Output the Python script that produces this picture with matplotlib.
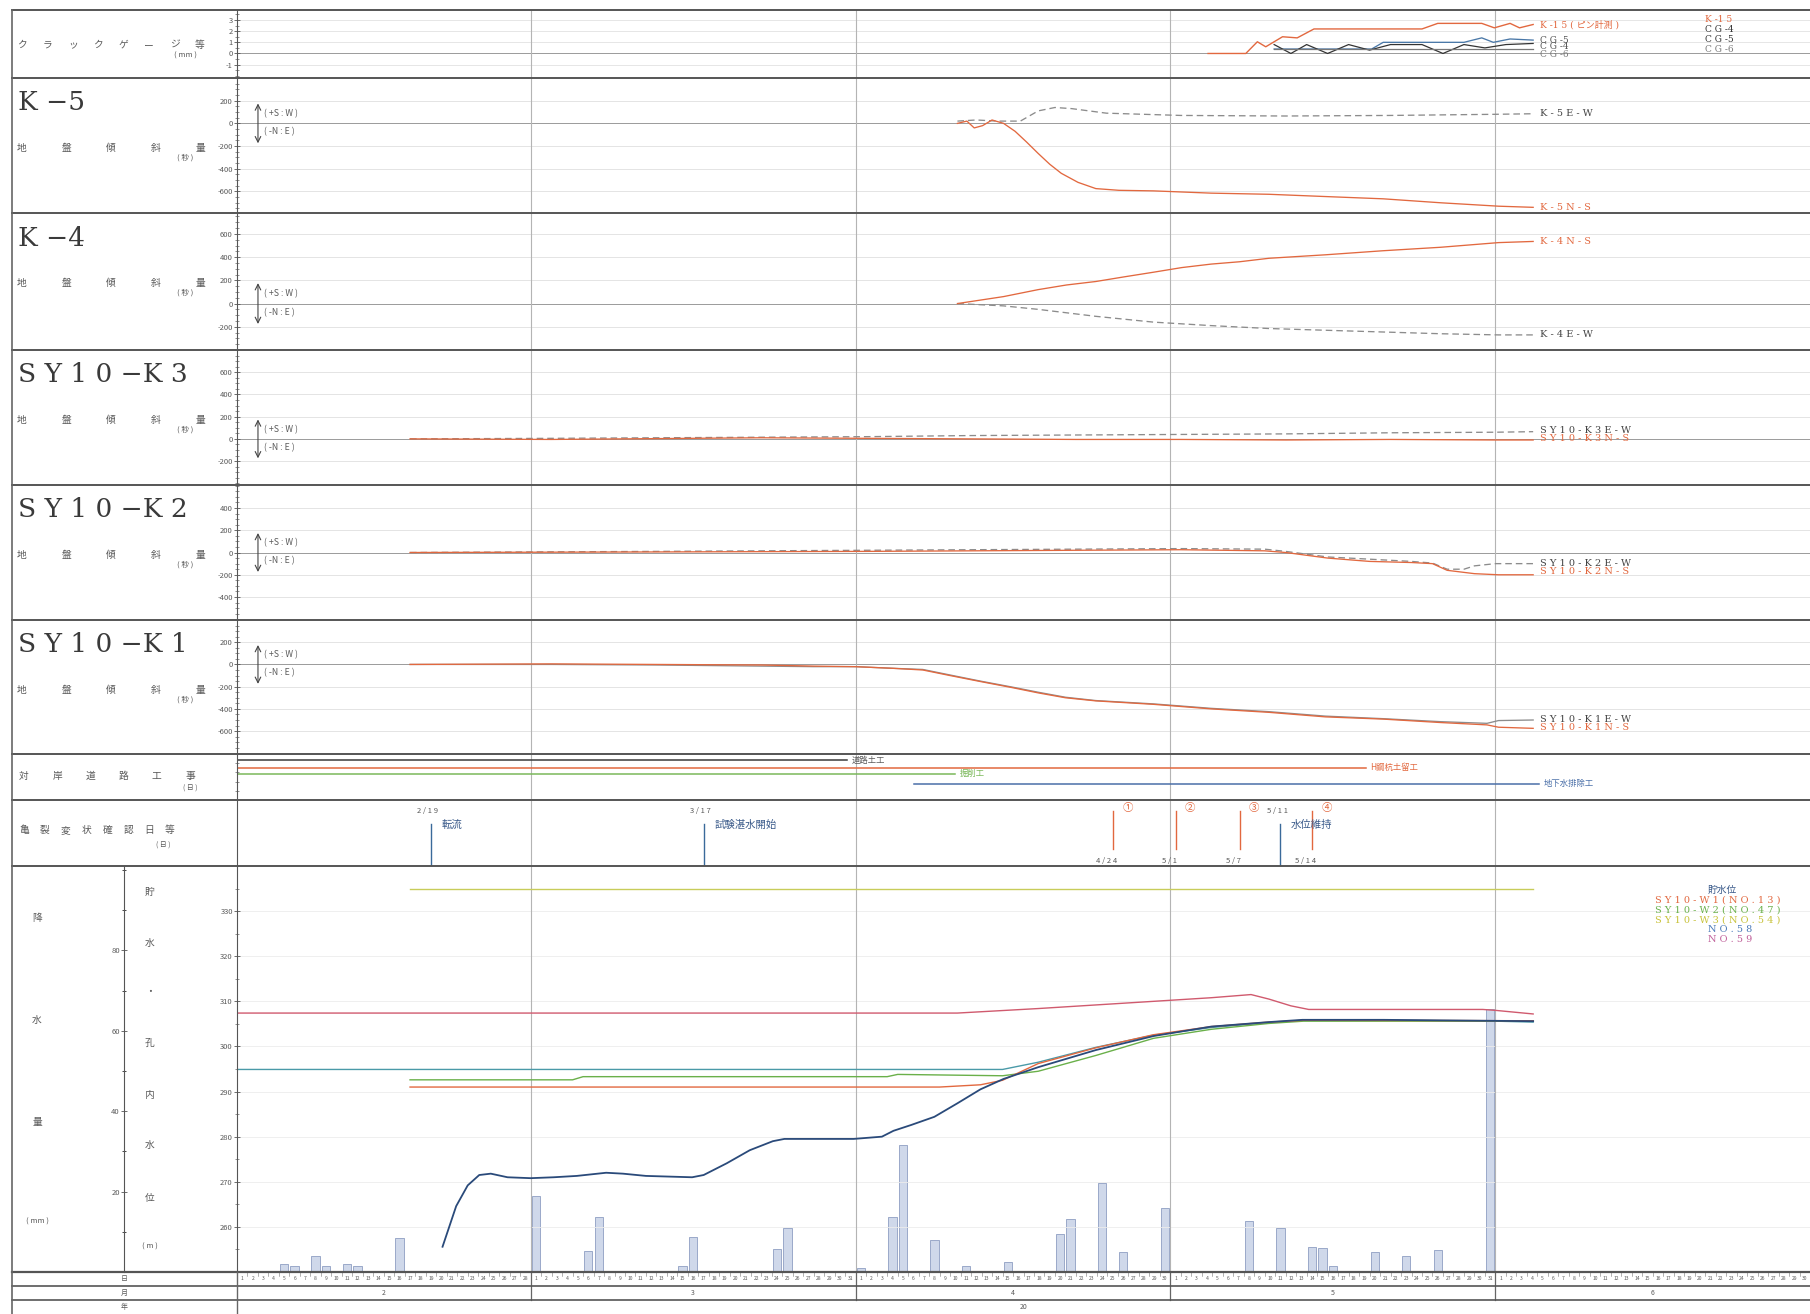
import matplotlib
matplotlib.use("Agg")
import matplotlib.pyplot as plt
from matplotlib.lines import Line2D
from matplotlib.ticker import MultipleLocator

plt.rcParams["font.family"] = ["Noto Sans CJK JP", "DejaVu Sans"]
plt.rcParams["axes.unicode_minus"] = False

W, H = 1810, 1314          # output size in px (dpi 100)
X0 = 237                   # left edge of the plotting area
NDAYS = 150                # Feb 1 .. Jun 30

# --- calendar ---
MONTHS = ["2", "3", "4", "5", "6"]
MONTH_DAYS = [28, 31, 30, 31, 30]
YEAR = "20"

# --- crack gauges (mm), x = days since Feb 1 ---
K15_DAY = [92.6, 96.2, 97.3, 98.1, 99.7, 101.1, 102.7, 113.0, 114.5, 118.7, 119.9, 121.4, 122.3, 123.6]
K15_VAL = [0, 0, 1.05, 0.6, 1.5, 1.4, 2.2, 2.2, 2.7, 2.7, 2.3, 2.7, 2.3, 2.6]
CG4_DAY = [98.9, 108.2, 109.3, 117.0, 118.7, 119.8, 121.4, 123.6]
CG4_VAL = [0.4, 0.4, 1.0, 1.0, 1.4, 1.0, 1.3, 1.2]
CG5_DAY = [98.9, 100.5, 102.0, 104.0, 106.0, 108.0, 110.0, 113.0, 115.0, 117.0, 119.0, 121.0, 123.6]
CG5_VAL = [0.8, 0.0, 0.8, 0.0, 0.8, 0.3, 0.8, 0.8, 0.0, 0.8, 0.5, 0.8, 0.9]
CG6_DAY = [98.9, 105.0, 112.0, 118.0, 123.6]
CG6_VAL = [0.4, 0.4, 0.4, 0.4, 0.4]

# --- ground tilt (seconds) ---
K5_EW_DAY = [68.7, 70.5, 72.5, 74.7, 76.4, 78.0, 79.6, 82.9, 90, 100, 110, 120, 123.6]
K5_EW_VAL = [20, 30, 20, 20, 110, 140, 130, 90, 70, 65, 70, 80, 85]
K5_NS_DAY = [68.7, 69.6, 70.3, 71.1, 72.0, 73.1, 74.2, 75.3, 76.4, 77.5, 78.6, 80.2, 81.9,
             84.1, 87.4, 92.9, 98.4, 103.8, 109.3, 114.8, 120.3, 123.6]
K5_NS_VAL = [0, 20, -40, -20, 30, 0, -70, -165, -265, -360, -440, -520, -575,
             -590, -595, -615, -625, -645, -665, -700, -730, -740]

K4_NS_DAY = [68.7, 70.9, 73.1, 76.4, 79.1, 81.9, 84.6, 87.4, 90.1, 92.9, 95.6, 98.4,
             103.8, 109.3, 114.8, 120.3, 123.6]
K4_NS_VAL = [0, 30, 60, 120, 160, 190, 230, 270, 310, 340, 360, 390, 420, 455, 485, 525, 535]
K4_EW_DAY = [68.7, 73.1, 76.4, 81.9, 87.4, 92.9, 98.4, 103.8, 109.3, 114.8, 120.3, 123.6]
K4_EW_VAL = [0, -20, -50, -110, -160, -190, -215, -230, -245, -260, -270, -270]

K3_DAY = [16.5, 30, 50, 60, 70, 80, 90, 100, 110, 120, 123.6]
K3_EW_VAL = [0, 5, 15, 20, 30, 35, 40, 45, 55, 60, 65]
K3_NS_VAL = [0, -5, 10, 5, 0, -5, -5, -10, -5, -10, -10]

K2_EW_DAY = [16.5, 40, 60, 80, 90, 98, 100, 104, 108, 112, 114, 115.4, 117, 118, 120, 123.6]
K2_EW_VAL = [0, 10, 20, 30, 35, 30, 10, -40, -60, -80, -95, -150, -150, -120, -100, -100]
K2_NS_DAY = [16.5, 40, 60, 80, 90, 98, 100, 104, 108, 112, 114, 115.4, 118, 120.3, 123.6]
K2_NS_VAL = [0, 5, 10, 20, 25, 15, 0, -50, -80, -90, -100, -160, -190, -200, -200]

K1_DAY = [16.5, 30, 40, 50, 55, 59, 62.6, 65.4, 68, 70.9, 74, 76.4, 79, 81.9, 87.4,
          92.9, 98.4, 103.8, 109.3, 114.8, 119.2, 120.3, 123.6]
K1_NS_VAL = [0, 5, 0, -5, -15, -20, -35, -50, -100, -154, -210, -256, -300, -328, -359,
             -400, -431, -472, -492, -523, -544, -565, -575]
K1_EW_VAL = [0, 0, -5, -15, -20, -20, -35, -45, -95, -150, -205, -250, -295, -325, -355,
             -395, -425, -465, -488, -515, -530, -505, -500]

# --- opposite-bank road works (start, end, label) ---
WORK_START = [0, 0, 0, 64.6]
WORK_END = [58.2, 107.7, 68.5, 124.2]
WORK_LABEL = ["道路土工", "H鋼杭土留工", "掘削工", "地下水排除工"]

# --- events ---
EVENT_BLUE_DAY = [18.5, 44.5, 99.5]
EVENT_BLUE_DATE = ["2/19", "3/17", "5/11"]
EVENT_BLUE_TEXT = ["転流", "試験湛水開始", "水位維持"]
EVENT_RED_DAY = [83.5, 89.5, 95.6, 102.5]
EVENT_RED_MARK = ["①", "②", "③", "④"]
EVENT_RED_DATE = ["4/24", "5/1", "5/7", "5/14"]

# --- water levels (m) ---
RES_DAY = [19.6, 20.9, 22.0, 23.1, 24.2, 25.8, 28.0, 30.2, 32.4, 35.2, 36.8, 39.0, 43.4,
           44.5, 46.7, 48.9, 51.1, 52.2, 58.8, 61.5, 62.6, 64.3, 66.5, 68.7, 70.9, 73.1,
           76.4, 81.9, 87.4, 92.9, 98.4, 101.6, 109.3, 123.6]
RES_VAL = [255.6, 264.6, 269.2, 271.5, 271.8, 271.0, 270.8, 271.0, 271.3, 272.0, 271.8,
           271.3, 271.0, 271.5, 274.1, 277.0, 279.0, 279.5, 279.5, 280.0, 281.3, 282.6,
           284.4, 287.4, 290.5, 292.8, 295.4, 299.2, 302.3, 304.4, 305.4, 305.9, 305.9, 305.6]
W1_DAY = [16.5, 67, 70.9, 73, 76.4, 81.9, 87.4, 92.9, 98.4, 101.7, 123.6]
W1_VAL = [291.0, 291.0, 291.5, 292.5, 296.2, 299.7, 302.6, 304.4, 305.4, 305.8, 305.7]
W2_DAY = [16.5, 32, 33, 62, 63, 73, 76.4, 81.9, 87.4, 92.9, 98.4, 101.7, 123.6]
W2_VAL = [292.6, 292.6, 293.3, 293.3, 293.8, 293.5, 294.5, 298.0, 301.8, 303.8, 305.1, 305.6, 305.6]
W3_DAY = [16.5, 123.6]
W3_VAL = [335.0, 335.0]
NO58_DAY = [0, 73, 76.4, 81.9, 87.4, 92.9, 98.4, 101.7, 110, 120, 123.6]
NO58_VAL = [294.9, 294.9, 296.5, 299.8, 302.5, 304.2, 305.3, 305.8, 305.8, 305.6, 305.4]
NO59_DAY = [0, 68.7, 76.4, 87.4, 92.9, 96.7, 98.4, 100.5, 102.2, 118.8, 120, 123.6]
NO59_VAL = [307.4, 307.4, 308.4, 310.0, 310.8, 311.5, 310.5, 309.0, 308.2, 308.2, 308.0, 307.2]

# --- daily rainfall (mm), day index from Feb 1 = 0 ---
RAIN_DAY = [4, 5, 7, 8, 10, 11, 15, 28, 33, 34, 42, 43, 51, 52, 59, 62, 63, 66, 69, 73,
            78, 79, 82, 84, 88, 96, 99, 102, 103, 104, 108, 111, 114, 119]
RAIN_MM = [2, 1.4, 4, 1.4, 2, 1.4, 8.4, 19, 5.2, 13.8, 1.4, 8.6, 5.8, 11, 1, 13.8, 31.7,
           8, 1.4, 2.6, 9.5, 13.3, 22.2, 4.9, 15.9, 12.7, 11, 6.3, 6, 1.6, 4.9, 4, 5.5, 65.4]

RED = "#e2683f"
GRAY = "#8c8c8c"
TXT = "#5a5a5a"
SERIF = ["DejaVu Serif", "Noto Sans CJK JP"]


def fx(px):
    return px / W


def fy(py):
    return 1 - py / H


def spread(s):
    # the original drawing uses wide letter spacing for its labels
    return " ".join(s)


def panel(fig, top, bottom):
    ax = fig.add_axes([fx(X0), fy(bottom), 1 - fx(X0), (bottom - top) / H])
    ax.set_xlim(0, NDAYS)
    ax.set_xticks([])
    for s in ("right", "top", "bottom"):
        ax.spines[s].set_visible(False)
    ax.spines["left"].set_color("#555555")
    ax.tick_params(axis="y", direction="inout", length=4, width=0.6, color="#555555",
                   labelsize=5.5, labelcolor=TXT, pad=1)
    ax.tick_params(axis="y", which="minor", direction="inout", length=2.5, width=0.5,
                   color="#666666")
    ax.patch.set_alpha(0)
    return ax


def month_grid(ax):
    edge = 0
    for n in MONTH_DAYS[:-1]:
        edge += n
        ax.axvline(edge, color="#b4b4b4", lw=0.8, zorder=0)


def spaced(fig, chars, x1, x2, y, size=7, color=TXT):
    step = (x2 - x1) / max(len(chars) - 1, 1)
    for i, c in enumerate(chars):
        fig.text(fx(x1 + i * step), fy(y), c, fontsize=size, color=color,
                 ha="center", va="center")


def hline(fig, y, x1=12, x2=W, lw=1.4, color="#555555"):
    fig.add_artist(Line2D([fx(x1), fx(x2)], [fy(y), fy(y)], lw=lw, color=color))


def tilt_panel(fig, top, bottom, ylim, ticks, name, lines, labels):
    ax = panel(fig, top, bottom)
    ax.set_ylim(*ylim)
    ax.set_yticks(ticks)
    ax.yaxis.set_minor_locator(MultipleLocator(50))
    for t in ticks:
        ax.axhline(t, color="#e4e4e4" if t else "#9a9a9a", lw=0.7, zorder=0)
    month_grid(ax)
    for xs, ys, col, ls in lines:
        ax.plot(xs, ys, color=col, lw=0.95, ls=ls)
    for txt, yv, col in labels:
        ax.text(124.3, yv, spread(txt), fontsize=7, color=col, ha="left", va="center",
                family=SERIF)
    ax.annotate("", xy=(2.0, -200), xytext=(2.0, 200),
                arrowprops=dict(arrowstyle="<->", lw=0.8, color="#444444"))
    ax.text(2.6, 85, "( +S : W )", fontsize=6.3, color=TXT, va="center")
    ax.text(2.6, -75, "( -N : E )", fontsize=6.3, color=TXT, va="center")
    fig.text(fx(18), fy(top + 25), name, fontsize=19, color="#3a3a3a", ha="left",
             va="center", family=SERIF)
    spaced(fig, "地盤傾斜量", 22, 200, top + 70)
    fig.text(fx(185), fy(top + 80), "( 秒 )", fontsize=5.5, color=TXT, ha="center",
             va="center")
    return ax


fig = plt.figure(figsize=(W / 100, H / 100), dpi=100)

# ---------------- crack gauges ----------------
ax = panel(fig, 10, 78)
ax.set_ylim(-2.2, 3.9)
ax.set_yticks([-1, 0, 1, 2, 3])
ax.yaxis.set_minor_locator(MultipleLocator(0.5))
for t in [-1, 1, 2, 3]:
    ax.axhline(t, color="#e6e6e6", lw=0.7, zorder=0)
ax.axhline(0, color="#9a9a9a", lw=0.7, zorder=0)
month_grid(ax)
ax.plot(K15_DAY, K15_VAL, color=RED, lw=1.0)
ax.plot(CG4_DAY, CG4_VAL, color="#4a78a8", lw=0.95)
ax.plot(CG5_DAY, CG5_VAL, color="#333333", lw=0.9)
ax.plot(CG6_DAY, CG6_VAL, color="#777777", lw=0.9)
ax.text(124.3, 2.6, "K -1 5 ( ピン計測 )", fontsize=6.5, color=RED, va="center",
        family=SERIF)
ax.text(124.3, 1.2, "C G -5", fontsize=6.5, color="#555555", va="center", family=SERIF)
ax.text(124.3, 0.6, "C G -4", fontsize=6.5, color="#555555", va="center", family=SERIF)
ax.text(124.3, -0.1, "C G -6", fontsize=6.5, color="#777777", va="center", family=SERIF)
for i, (t, c) in enumerate(zip(["K -1 5", "C G -4", "C G -5", "C G -6"],
                               [RED, "#333333", "#333333", "#777777"])):
    fig.text(fx(1705), fy(19 + 10 * i), t, fontsize=6.5, color=c, va="center",
             family=SERIF)
spaced(fig, "クラックゲージ等", 22, 200, 45)
fig.text(fx(185), fy(56), "( mm )", fontsize=5.5, color=TXT, ha="center", va="center")

# ---------------- tilt meters ----------------
tilt_panel(fig, 78, 213, (-790, 400), [200, 0, -200, -400, -600], "K −5",
           [(K5_EW_DAY, K5_EW_VAL, GRAY, (0, (5, 3))), (K5_NS_DAY, K5_NS_VAL, RED, "-")],
           [("K-5E-W", 85, "#444444"), ("K-5N-S", -740, RED)])
tilt_panel(fig, 213, 350, (-400, 780), [600, 400, 200, 0, -200], "K −4",
           [(K4_EW_DAY, K4_EW_VAL, GRAY, (0, (5, 3))), (K4_NS_DAY, K4_NS_VAL, RED, "-")],
           [("K-4E-W", -270, "#444444"), ("K-4N-S", 535, RED)])
tilt_panel(fig, 350, 485, (-415, 800), [600, 400, 200, 0, -200], "S Y 1 0 −K 3",
           [(K3_DAY, K3_EW_VAL, GRAY, (0, (5, 3))), (K3_DAY, K3_NS_VAL, RED, "-")],
           [("SY10-K3E-W", 78, "#444444"), ("SY10-K3N-S", 5, RED)])
tilt_panel(fig, 485, 620, (-606, 606), [400, 200, 0, -200, -400], "S Y 1 0 −K 2",
           [(K2_EW_DAY, K2_EW_VAL, GRAY, (0, (5, 3))), (K2_NS_DAY, K2_NS_VAL, RED, "-")],
           [("SY10-K2E-W", -95, "#444444"), ("SY10-K2N-S", -175, RED)])
tilt_panel(fig, 620, 754, (-806, 400), [200, 0, -200, -400, -600], "S Y 1 0 −K 1",
           [(K1_DAY, K1_EW_VAL, GRAY, "-"), (K1_DAY, K1_NS_VAL, RED, "-")],
           [("SY10-K1E-W", -495, "#444444"), ("SY10-K1N-S", -570, RED)])

# ---------------- road works ----------------
ax = panel(fig, 754, 800)
ax.set_ylim(0, 1)
ax.set_yticks([])
ax.yaxis.set_minor_locator(MultipleLocator(0.2))
month_grid(ax)
work_y = [0.86, 0.70, 0.57, 0.35]
work_c = ["#3a3a3a", RED, "#7ab85a", "#4a6fa8"]
for s, e, lab, yy, c in zip(WORK_START, WORK_END, WORK_LABEL, work_y, work_c):
    ax.plot([s, e], [yy, yy], color=c, lw=1.1)
    ax.text(e + 0.4, yy, lab, fontsize=6, color=c if c != "#3a3a3a" else TXT,
            va="center")
spaced(fig, "対岸道路工事", 24, 190, 776)
fig.text(fx(190), fy(789), "( 日 )", fontsize=5, color=TXT, ha="center", va="center")

# ---------------- events ----------------
ax = panel(fig, 800, 866)
ax.set_ylim(0, 1)
ax.set_yticks([])
month_grid(ax)
for d, dt, tx in zip(EVENT_BLUE_DAY, EVENT_BLUE_DATE, EVENT_BLUE_TEXT):
    ax.plot([d, d], [0, 0.64], color="#3a6a9a", lw=1.0)
    ax.text(d - 0.3, 0.83, spread(dt), fontsize=5.5, color=TXT, ha="center", va="center")
    ax.text(d + 1.0, 0.62, tx, fontsize=7.5, color="#3a5a8a", ha="left", va="center")
for d, mk, dt in zip(EVENT_RED_DAY, EVENT_RED_MARK, EVENT_RED_DATE):
    ax.plot([d, d], [0.26, 0.84], color=RED, lw=1.0)
    ax.text(d + 1.4, 0.88, mk, fontsize=7.5, color=RED, ha="center", va="center")
    ax.text(d - 0.6, 0.07, spread(dt), fontsize=5.5, color=TXT, ha="center", va="center")
spaced(fig, "亀裂変状確認日等", 24, 170, 830)
fig.text(fx(163), fy(846), "( 日 )", fontsize=5, color=TXT, ha="center", va="center")

# ---------------- water levels & rain ----------------
ax = panel(fig, 866, 1272)
ax.set_ylim(250, 340)
ax.set_yticks([260, 270, 280, 290, 300, 310, 320, 330])
ax.yaxis.set_minor_locator(MultipleLocator(5))
for t in [260, 270, 280, 290, 300, 310, 320, 330]:
    ax.axhline(t, color="#ececec", lw=0.6, zorder=0)
month_grid(ax)

axr = ax.twinx()
axr.set_ylim(0, 101)
axr.set_xlim(0, NDAYS)
axr.axis("off")
axr.bar([d + 0.5 for d in RAIN_DAY], RAIN_MM, width=0.8, color="#cfd8ea",
        edgecolor="#8e9ec2", lw=0.6, zorder=1)

ax.set_zorder(axr.get_zorder() + 1)
ax.plot(W3_DAY, W3_VAL, color="#c8cc5a", lw=1.0)
ax.plot(NO59_DAY, NO59_VAL, color="#d05a6e", lw=1.0)
ax.plot(NO58_DAY, NO58_VAL, color="#4a9aa8", lw=1.0)
ax.plot(W2_DAY, W2_VAL, color="#6ab04a", lw=1.0)
ax.plot(W1_DAY, W1_VAL, color=RED, lw=1.0)
ax.plot(RES_DAY, RES_VAL, color="#2a4a7a", lw=1.3)

legend_items = [("貯水位", "#3a5a8a"), ("SY10-W1(NO.13)", RED), ("SY10-W2(NO.47)", "#6ab04a"),
                ("SY10-W3(NO.54)", "#c8c23a"), ("NO.58", "#4a7ab8"), ("NO.59", "#c0609a")]
for i, (t, c) in enumerate(legend_items):
    x = 1708 if t in ("貯水位", "NO.58", "NO.59") else 1655
    fig.text(fx(x), fy(890 + 10 * i), spread(t) if t != "貯水位" else t, fontsize=7,
             color=c, va="center", family=SERIF)

# rain scale on its own spine
axs = fig.add_axes([fx(124), fy(1272), fx(X0) - fx(124), (1272 - 866) / H])
axs.set_ylim(0, 101)
axs.set_xticks([])
for s in ("right", "top", "bottom"):
    axs.spines[s].set_visible(False)
axs.spines["left"].set_color("#555555")
axs.set_yticks([20, 40, 60, 80])
axs.yaxis.set_minor_locator(MultipleLocator(10))
axs.tick_params(axis="y", direction="inout", length=4, width=0.6, color="#555555",
                labelsize=5.5, labelcolor=TXT, pad=1)
axs.tick_params(axis="y", which="minor", direction="inout", length=2.5, width=0.5)
axs.patch.set_alpha(0)

for c, y in zip("降水量", [918, 1020, 1122]):
    fig.text(fx(37), fy(y), c, fontsize=7, color=TXT, ha="center", va="center")
fig.text(fx(37), fy(1222), "( mm )", fontsize=5.5, color=TXT, ha="center", va="center")
for c, y in zip("貯水・孔内水位", [892, 943, 992, 1043, 1095, 1145, 1198]):
    fig.text(fx(150), fy(y), c, fontsize=7, color=TXT, ha="center", va="center")
fig.text(fx(150), fy(1247), "( m )", fontsize=5.5, color=TXT, ha="center", va="center")

# ---------------- date rows ----------------
axd = fig.add_axes([fx(X0), 0, 1 - fx(X0), (1314 - 1272) / H])
axd.set_xlim(0, NDAYS)
axd.set_ylim(0, 3)
axd.axis("off")
start = 0
for m, n in zip(MONTHS, MONTH_DAYS):
    for d in range(1, n + 1):
        axd.text(start + d - 0.5, 2.5, str(d), fontsize=3.6, color=TXT, ha="center",
                 va="center")
        axd.plot([start + d, start + d], [2.72, 3.0], color="#777777", lw=0.4)
    axd.text(start + n / 2, 1.5, m, fontsize=5, color=TXT, ha="center", va="center")
    if start:
        axd.plot([start, start], [1.0, 3.0], color="#666666", lw=0.9)
    start += n
axd.text(NDAYS / 2, 0.5, YEAR, fontsize=5, color=TXT, ha="center", va="center")
for c, y in zip("日月年", [1279, 1293, 1307]):
    fig.text(fx(124), fy(y), c, fontsize=5, color=TXT, ha="center", va="center")

# ---------------- frame ----------------
for y in [10, 78, 213, 350, 485, 620, 754, 800, 866]:
    hline(fig, y)
hline(fig, 1272, lw=1.6)
hline(fig, 1286, lw=1.2)
hline(fig, 1300, lw=1.2)
fig.add_artist(Line2D([fx(12), fx(12)], [fy(10), fy(1314)], lw=1.2, color="#666666"))
fig.add_artist(Line2D([fx(X0), fx(X0)], [fy(1272), fy(1314)], lw=1.0, color="#666666"))

fig.savefig("out.png", dpi=100, facecolor="white")
